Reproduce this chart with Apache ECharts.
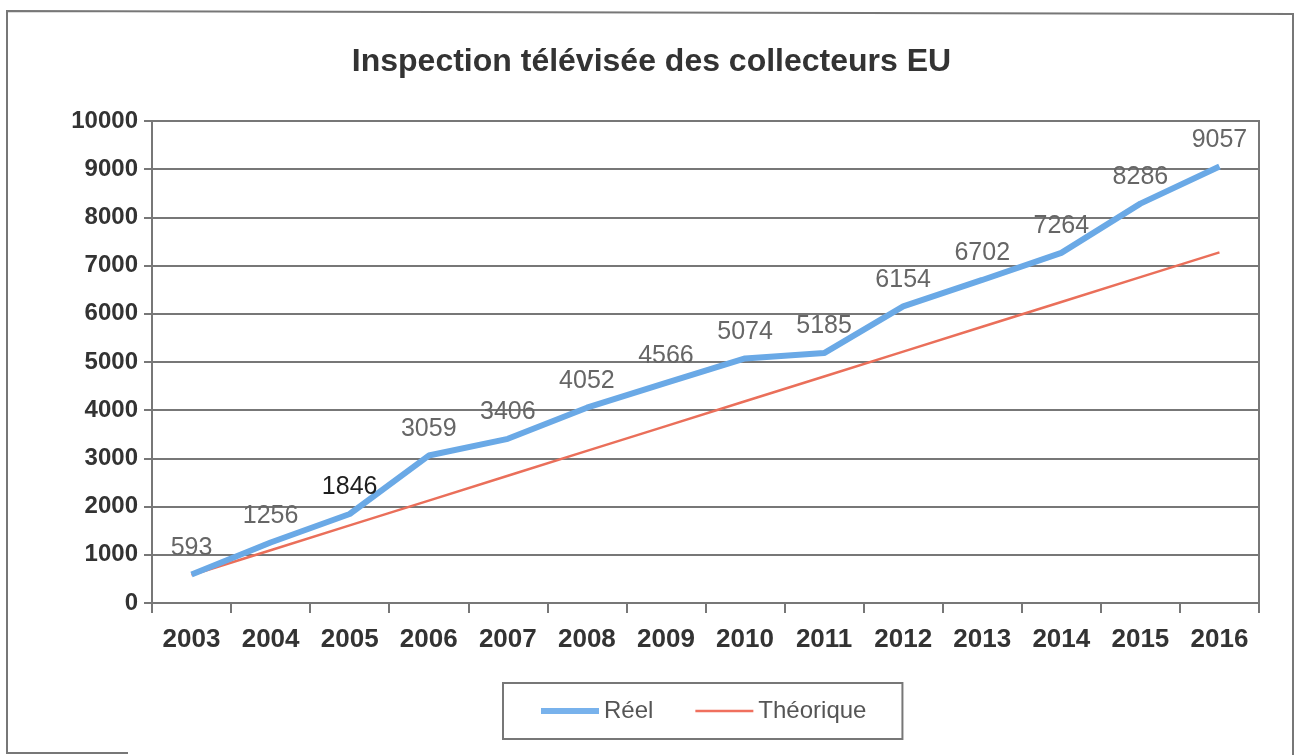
<!DOCTYPE html>
<html>
<head>
<meta charset="utf-8">
<script src="https://cdn.jsdelivr.net/npm/echarts@6/dist/echarts.min.js"></script>
<style>html,body{margin:0;padding:0;background:#fff}#c{width:1303px;height:755px}</style>
</head>
<body>
<div id="c"></div>
<script>
var titleText = 'Inspection télévisée des collecteurs EU';
var years = ['2003','2004','2005','2006','2007','2008','2009','2010','2011','2012','2013','2014','2015','2016'];
var reel = [593, 1256, 1846, 3059, 3406, 4052, 4566, 5074, 5185, 6154, 6702, 7264, 8286, 9057];
var theorique = [580, 1095, 1610, 2125, 2640, 3155, 3670, 4185, 4700, 5215, 5730, 6245, 6760, 7275];
var yTicks = [0, 10000, 1000];

var chart = echarts.init(document.getElementById('c'), null, {renderer: 'canvas'});
var font = 'Liberation Sans, Arial, sans-serif';
var reelData = reel.map(function (v, i) {
  var d = {value: v};
  if (years[i] === '2005') d.label = {show: true, color: '#1e1e1e'};
  return d;
});
chart.setOption({
  backgroundColor: '#fff',
  animation: false,
  title: {
    text: titleText, left: 'center', top: 41,
    textStyle: {fontFamily: font, fontSize: 32, fontWeight: 'bold', color: '#333'}
  },
  grid: {left: 152, right: 44, top: 121, bottom: 152, show: true, borderColor: '#777', borderWidth: 2, backgroundColor: 'transparent'},
  legend: {
    left: 503, top: 683,
    padding: [16, 36, 16, 38],
    itemGap: 42, itemWidth: 58, itemHeight: 14,
    borderColor: '#777', borderWidth: 2,
    textStyle: {fontFamily: font, fontSize: 24, color: '#555'},
    data: [
      {name: 'Réel', icon: 'path://M0,5 L100,5 L100,15 L0,15 Z', itemStyle: {color: '#78b2ec'}},
      {name: 'Théorique', icon: 'path://M0,8 L100,8 L100,12 L0,12 Z', itemStyle: {color: '#f0705e'}}
    ]
  },
  xAxis: {
    type: 'category', data: years, boundaryGap: true,
    axisLine: {lineStyle: {color: '#777', width: 2}},
    axisTick: {show: true, length: 10, alignWithLabel: false, lineStyle: {color: '#777', width: 2}},
    axisLabel: {fontFamily: font, fontSize: 26, fontWeight: 'bold', color: '#333', margin: 24}
  },
  yAxis: {
    type: 'value', min: yTicks[0], max: yTicks[1], interval: yTicks[2],
    axisLine: {show: true, lineStyle: {color: '#777', width: 2}},
    axisTick: {show: true, length: 8, lineStyle: {color: '#777', width: 2}},
    splitLine: {lineStyle: {color: '#777', width: 2}},
    axisLabel: {fontFamily: font, fontSize: 24, fontWeight: 'bold', color: '#333', margin: 14,
      formatter: function (v) { return String(v); }}
  },
  series: [
    {
      name: 'Réel', type: 'line', data: reelData, symbol: 'circle', symbolSize: 0, showSymbol: true, z: 3,
      lineStyle: {color: '#6aa9e6', width: 6},
      itemStyle: {color: '#78b2ec'},
      label: {show: true, position: 'top', distance: 14, fontFamily: font, fontSize: 25, color: '#666'}
    },
    {
      name: 'Théorique', type: 'line', data: theorique, symbol: 'none', z: 2,
      lineStyle: {color: '#ea6f5a', width: 2.5},
      itemStyle: {color: '#f0705e'}
    }
  ],
  graphic: [
    {type: 'polyline', shape: {points: [[128, 753], [7, 753], [7, 11], [1293, 14], [1293, 755]]}, style: {stroke: '#777', lineWidth: 2, fill: null}}
  ]
});
</script>
</body>
</html>
